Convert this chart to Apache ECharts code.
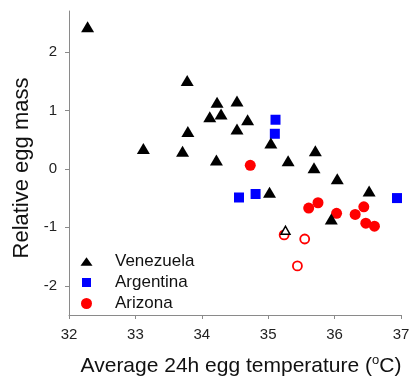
<!DOCTYPE html>
<html>
<head>
<meta charset="utf-8">
<script src="https://cdn.jsdelivr.net/npm/echarts@6/dist/echarts.min.js"></script>
<style>
html,body{margin:0;padding:0;background:#fff;}
#chart{width:410px;height:379px;}
</style>
</head>
<body>
<div id="chart"></div>
<script>
var xTicks = [32, 33, 34, 35, 36, 37];
var yTicks = [-2, -1, 0, 1, 2];

var venezuela = [
  [32.28, 2.43], [33.78, 1.51], [33.12, 0.35], [33.79, 0.64], [33.71, 0.30],
  [34.23, 1.14], [34.12, 0.89], [34.29, 0.94], [34.22, 0.15], [34.53, 1.16],
  [34.53, 0.68], [34.69, 0.84], [35.04, 0.44], [35.30, 0.14], [35.71, 0.31],
  [35.69, 0.02], [36.04, -0.17], [36.52, -0.38], [35.02, -0.40], [35.95, -0.86]
];
var venezuelaOpen = [[35.26, -1.05]];
var argentina = [[35.11, 0.84], [35.10, 0.60], [34.56, -0.49], [34.81, -0.43], [36.94, -0.50]];
var arizona = [
  [34.73, 0.06], [35.61, -0.67], [35.75, -0.58], [36.03, -0.76],
  [36.44, -0.65], [36.31, -0.78], [36.47, -0.93], [36.60, -0.98]
];
var arizonaOpen = [[35.24, -1.13], [35.55, -1.20], [35.44, -1.66]];

var FONT = '"Liberation Sans", Arial, sans-serif';
var chart = echarts.init(document.getElementById('chart'), null, {renderer: 'canvas'});

var option = {
  animation: false,
  backgroundColor: '#fff',
  grid: {left: 69, right: 9, top: 11, bottom: 64, containLabel: false, outerBoundsMode: 'none'},
  legend: {
    orient: 'vertical',
    left: 80,
    top: 253,
    padding: 0,
    itemWidth: 13,
    itemHeight: 13,
    itemGap: 4,
    symbolKeepAspect: true,
    textStyle: {fontSize: 17, fontFamily: FONT, color: '#111', padding: [0, 0, 0, 17]},
    data: [
      {name: 'Venezuela', icon: 'path://M0,0M13,13M6.5,2.3L12.5,10.7L0.5,10.7Z'},
      {name: 'Argentina', icon: 'path://M0,0M13,13M2,2L11,2L11,11L2,11Z'},
      {name: 'Arizona', icon: 'path://M0,0M13,13M1,6.5A5.5,5.5,0,1,1,12,6.5A5.5,5.5,0,1,1,1,6.5Z'}
    ]
  },
  xAxis: {
    type: 'value',
    min: 32, max: 37, interval: 1,
    splitLine: {show: false},
    axisLine: {show: true, onZero: false, lineStyle: {color: '#8a8a8a', width: 1}},
    axisTick: {show: true, length: 4, lineStyle: {color: '#8a8a8a'}},
    axisLabel: {fontSize: 15, fontFamily: FONT, color: '#222', margin: 12,
      customValues: xTicks},
    name: '{a|Average 24h egg temperature (}{s|o}{a|C)}',
    nameLocation: 'middle',
    nameGap: 39,
    nameTextStyle: {
      fontFamily: FONT, color: '#111', padding: [0, 0, 0, 12],
      rich: {
        a: {fontSize: 21, fontFamily: FONT, color: '#111', lineHeight: 24},
        s: {fontSize: 13, fontFamily: FONT, color: '#111', verticalAlign: 'top', lineHeight: 24, padding: [0, 0, 8, 0]}
      }
    }
  },
  yAxis: {
    type: 'value',
    min: -2.5, max: 2.7,
    splitLine: {show: false},
    axisLine: {show: true, onZero: false, lineStyle: {color: '#8a8a8a', width: 1}},
    axisTick: {show: true, length: 4, lineStyle: {color: '#8a8a8a'}, customValues: yTicks},
    axisLabel: {fontSize: 15, fontFamily: FONT, color: '#222', margin: 12, align: 'right', customValues: yTicks},
    name: 'Relative egg mass',
    nameLocation: 'middle',
    nameGap: 31,
    nameTextStyle: {fontSize: 22, fontFamily: FONT, color: '#111', padding: [0, 10, 0, 0]}
  },
  series: [
    {name: 'Arizona', type: 'scatter', data: arizona, symbol: 'circle', symbolSize: 11,
      itemStyle: {color: '#ff0000', opacity: 1}, emphasis: {disabled: true}},
    {name: 'Arizona', type: 'scatter', data: arizonaOpen, symbol: 'circle', symbolSize: 9,
      itemStyle: {color: '#ffffff', borderColor: '#ff0000', borderWidth: 1.8, opacity: 1}, emphasis: {disabled: true}},
    {name: 'Argentina', type: 'scatter', data: argentina, symbol: 'rect', symbolSize: 10,
      itemStyle: {color: '#0000ff', opacity: 1}, emphasis: {disabled: true}},
    {name: 'Venezuela', type: 'scatter', data: venezuela, symbol: 'triangle', symbolSize: [13, 11],
      itemStyle: {color: '#000000', opacity: 1}, emphasis: {disabled: true}},
    {name: 'VenezuelaOpen', type: 'scatter', data: venezuelaOpen, symbol: 'triangle', symbolSize: [9, 8],
      itemStyle: {color: '#ffffff', borderColor: '#000000', borderWidth: 1.5, opacity: 1}, emphasis: {disabled: true}}
  ]
};
chart.setOption(option);
</script>
</body>
</html>
